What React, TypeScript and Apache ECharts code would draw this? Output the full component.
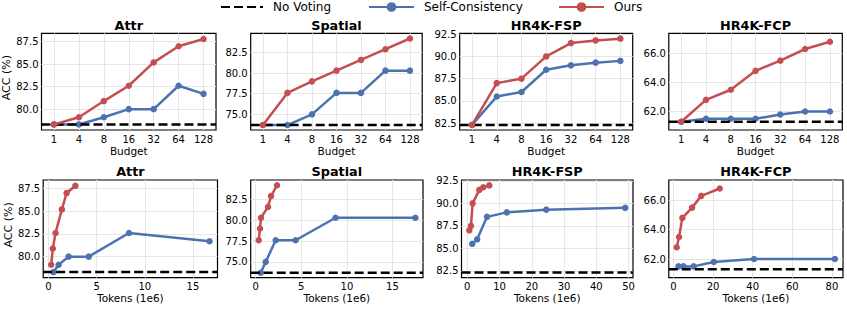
import React, { useEffect, useRef } from 'react';
import * as echarts from 'echarts';

// ---------- data ----------
const budgets = ['1', '4', '8', '16', '32', '64', '128'];
const titles = ['Attr', 'Spatial', 'HR4K-FSP', 'HR4K-FCP'];
const noVoting = [78.3, 73.7, 82.3, 61.3];

const attrSC = [78.3, 78.3, 79.1, 80.0, 80.0, 82.6, 81.7];
const attrOurs = [78.3, 79.1, 80.9, 82.6, 85.2, 87.0, 87.8];
const spatialSC = [73.7, 73.7, 75.0, 77.6, 77.6, 80.3, 80.3];
const spatialOurs = [73.7, 77.6, 79.0, 80.3, 81.6, 82.9, 84.2];
const fspSC = [82.3, 85.5, 86.0, 88.5, 89.0, 89.3, 89.5];
const fspOurs = [82.3, 87.0, 87.5, 90.0, 91.5, 91.8, 92.0];
const fcpSC = [61.3, 61.5, 61.5, 61.5, 61.8, 62.0, 62.0];
const fcpOurs = [61.3, 62.8, 63.5, 64.8, 65.5, 66.3, 66.8];

// tokens (1e6) for budgets 4..128
const attrSCTokens = [0.52, 1.05, 2.09, 4.18, 8.36, 16.72];
const attrOursTokens = [0.28, 0.45, 0.73, 1.39, 1.88, 2.79];
const spatialSCTokens = [0.55, 1.1, 2.19, 4.38, 8.76, 17.52];
const spatialOursTokens = [0.33, 0.47, 0.58, 1.35, 1.68, 2.34];
const fspSCTokens = [1.53, 3.06, 6.12, 12.24, 24.5, 48.97];
const fspOursTokens = [0.62, 1.14, 1.65, 3.72, 4.96, 6.82];
const fcpSCTokens = [2.6, 5.1, 10.2, 20.4, 40.7, 81.5];
const fcpOursTokens = [1.68, 2.86, 4.55, 9.43, 14.1, 23.4];

const yMin = [77.68, 73.1, 81.73, 60.73];
const yMax = [88.44, 84.83, 92.6, 67.38];
const yTicks = [
  [80, 82.5, 85, 87.5],
  [75, 77.5, 80, 82.5],
  [82.5, 85, 87.5, 90, 92.5],
  [62, 64, 66],
];
const tokMin = [-0.55, -0.55, -1.8, -2.3];
const tokMax = [17.55, 18.35, 51.4, 85.6];
const tokTicks = [
  [0, 5, 10, 15],
  [0, 5, 10, 15],
  [0, 10, 20, 30, 40, 50],
  [0, 20, 40, 60, 80],
];

const scAll = [attrSC, spatialSC, fspSC, fcpSC];
const oursAll = [attrOurs, spatialOurs, fspOurs, fcpOurs];
const scTokAll = [attrSCTokens, spatialSCTokens, fspSCTokens, fcpSCTokens];
const oursTokAll = [attrOursTokens, spatialOursTokens, fspOursTokens, fcpOursTokens];

// ---------- layout ----------
const colLeftTop = [41.5, 250.7, 459.7, 668.8];
const colWidthTop = [174.5, 171.5, 173, 173.5];
const colLeftBot = [43.2, 250.7, 461.5, 668.8];
const colWidthBot = [174.3, 172.3, 171.5, 174.2];
const rowTop = [33.3, 180];
const rowHeight = [96.7, 97.7];
const titleY = [25, 171];

const BLUE = '#4C72B0';
const RED = '#C44E52';
const FONT = 'DejaVu Sans';

export default function App() {
  const ref = useRef<HTMLDivElement>(null);
  useEffect(() => {
    if (!ref.current) return;
    const chart = echarts.init(ref.current, undefined, { renderer: 'svg' });

    const grids: any[] = [];
    const xAxes: any[] = [];
    const yAxes: any[] = [];
    const series: any[] = [];
    const graphics: any[] = [];

    const baseLabel = { fontFamily: FONT, fontSize: 10, color: '#000' };
    const split = { show: true, lineStyle: { color: '#e6e6e6', width: 1 } };

    for (let row = 0; row < 2; row++) {
      for (let c = 0; c < 4; c++) {
        const g = row * 4 + c;
        const left = row === 0 ? colLeftTop[c] : colLeftBot[c];
        const width = row === 0 ? colWidthTop[c] : colWidthBot[c];
        grids.push({
          left, top: rowTop[row], width, height: rowHeight[row],
          show: true, borderColor: '#000', borderWidth: 1.2, backgroundColor: '#fff',
          containLabel: false, outerBoundsMode: 'none',
        });
        graphics.push({
          type: 'text', x: left + width / 2, y: titleY[row], z: 10,
          style: { text: titles[c], fontFamily: FONT, fontWeight: 'bold', fontSize: 12.8, fill: '#000', textAlign: 'center', textVerticalAlign: 'middle' },
        });
        const xMinV = row === 0 ? -0.5 : tokMin[c];
        const xMaxV = row === 0 ? 6.5 : tokMax[c];
        const xTickVals = row === 0 ? budgets.map((_, i) => i) : tokTicks[c];
        xAxes.push({
          type: 'value', gridIndex: g, min: xMinV, max: xMaxV,
          name: row === 0 ? 'Budget' : 'Tokens (1e6)', nameLocation: 'middle', nameGap: 15,
          nameTextStyle: { fontFamily: FONT, fontSize: 10.5, color: '#000' },
          axisLine: { show: false },
          axisTick: { show: false, customValues: xTickVals },
          axisLabel: {
            ...baseLabel, margin: 4, customValues: xTickVals,
            formatter: (v: number) => (row === 0 ? budgets[Math.round(v)] : String(v)),
          },
          splitLine: split,
        });
        yAxes.push({
          type: 'value', gridIndex: g, min: yMin[c], max: yMax[c],
          name: c === 0 ? 'ACC (%)' : '', nameLocation: 'middle', nameGap: row === 0 ? 29 : 27,
          nameTextStyle: { fontFamily: FONT, fontSize: 11, color: '#000', padding: [0, 0, 0, 8] },
          axisLine: { show: false },
          axisTick: { show: false, customValues: yTicks[c] },
          axisLabel: { ...baseLabel, margin: 3, customValues: yTicks[c], formatter: (v: number) => v.toFixed(1) },
          splitLine: split,
        });

        const scData = row === 0
          ? scAll[c].map((v, i) => [i, v])
          : scTokAll[c].map((t, i) => [t, scAll[c][i + 1]]);
        const oursData = row === 0
          ? oursAll[c].map((v, i) => [i, v])
          : oursTokAll[c].map((t, i) => [t, oursAll[c][i + 1]]);

        series.push({
          name: 'Self-Consistency', type: 'line', xAxisIndex: g, yAxisIndex: g, data: scData,
          symbol: 'circle', symbolSize: 6.5, lineStyle: { color: BLUE, width: 2.5 },
          itemStyle: { color: BLUE }, z: 2,
        });
        series.push({
          name: 'No Voting', type: 'line', xAxisIndex: g, yAxisIndex: g,
          data: [[xMinV, noVoting[c]], [xMaxV, noVoting[c]]],
          symbol: 'none', lineStyle: { color: '#000', width: 2.5, type: [9, 4] },
          itemStyle: { color: '#000' }, z: 3,
        });
        series.push({
          name: 'Ours', type: 'line', xAxisIndex: g, yAxisIndex: g, data: oursData,
          symbol: 'circle', symbolSize: 6.5, lineStyle: { color: RED, width: 2.5 },
          itemStyle: { color: RED }, z: 4,
        });
      }
    }

    const legendBase = {
      top: 1, itemWidth: 45, itemHeight: 12, selectedMode: false, padding: 0,
      textStyle: { fontFamily: FONT, fontSize: 12, color: '#000', padding: [0, 0, 0, 5] },
    };

    chart.setOption({
      animation: false,
      backgroundColor: '#fff',
      textStyle: { fontFamily: FONT },
      legend: [
        { ...legendBase, left: 220, itemWidth: 42, data: [{ name: 'No Voting', itemStyle: { opacity: 0 } }] },
        { ...legendBase, left: 368, data: ['Self-Consistency'] },
        { ...legendBase, left: 558, data: ['Ours'] },
      ],
      grid: grids,
      xAxis: xAxes,
      yAxis: yAxes,
      series,
      graphic: graphics,
    });
    return () => chart.dispose();
  }, []);
  return <div ref={ref} style={{ position: 'absolute', left: 0, top: 0, width: 847, height: 309 }} />;
}
